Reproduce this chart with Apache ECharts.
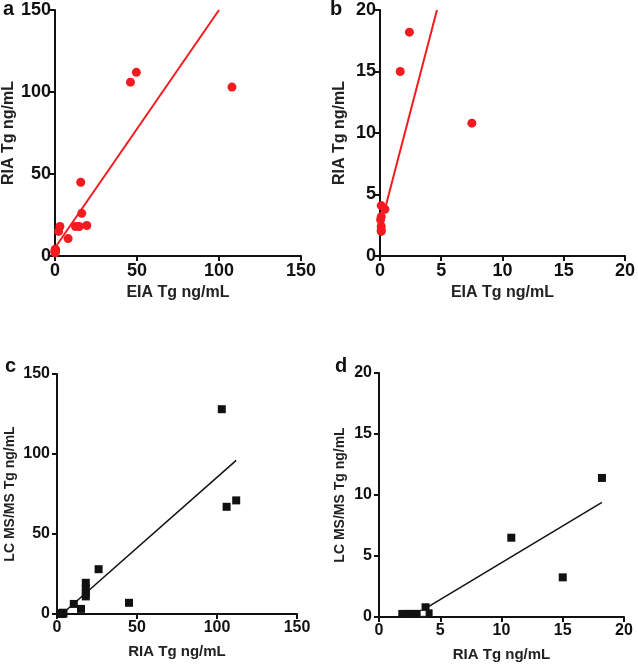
<!DOCTYPE html>
<html>
<head>
<meta charset="utf-8">
<script src="https://cdn.jsdelivr.net/npm/echarts@6/dist/echarts.min.js"></script>
<style>html,body{margin:0;padding:0;background:#fff}#c{width:638px;height:665px}</style>
</head>
<body>
<div id="c"></div>
<script>
// Panel a: EIA (x) vs RIA (y), full range
var aEIA = [107.9, 46, 49.6, 15.7, 16.3, 3.0, 2.2, 8.0, 12.5, 14.8, 19.4, 0.1, 0.4, 0.1, 0.1, 0.1, 0.1, 0.1];
var aRIA = [103, 106, 112, 45, 26, 18, 15, 10.6, 18, 18, 18.6, 4.1, 3.8, 3.2, 2.9, 2.4, 2.1, 2.0];
var aFitX = [0, 100];
var aFitY = [5, 150];
// Panel b: EIA (x) vs RIA (y), low range
var bEIA = [2.4, 1.65, 7.5, 0.1, 0.4, 0.1, 0.05, 0.1, 0.1, 0.1];
var bRIA = [18.2, 15, 10.8, 4.1, 3.8, 3.2, 2.95, 2.4, 2.1, 2.0];
var bFitX = [0.4, 4.65];
var bFitY = [3.8, 20];
// Panel c: RIA (x) vs LC MS/MS (y), full range
var cRIA = [103, 112, 106, 26, 45, 18, 18, 18, 18, 10.5, 15, 2, 2.5, 3, 3.5, 4, 3.8];
var cLC = [128, 71, 67, 28, 7, 19.5, 16, 13, 11, 6.3, 3.2, 0.3, 0.3, 0.3, 0.3, 0.3, 0.8];
var cFitX = [3.5, 112];
var cFitY = [0.3, 96];
// Panel d: RIA (x) vs LC MS/MS (y), low range
var dRIA = [18.2, 10.8, 15, 3.8, 4.05, 1.9, 2.1, 2.3, 2.5, 2.7, 2.9, 3.1, 3.3];
var dLC = [11.4, 6.5, 3.25, 0.8, 0.3, 0.25, 0.25, 0.25, 0.25, 0.25, 0.25, 0.25, 0.25];
var dOpenRIA = [3.6];
var dOpenLC = [0.3];
var dFitX = [3.8, 18.2];
var dFitY = [0.7, 9.4];

var RED = '#f21b1f';

function pairs(xs, ys) { return xs.map(function (x, i) { return [x, ys[i]]; }); }

var grids = [
  { left: 53, top: 10, width: 248, height: 246 },
  { left: 380, top: 10, width: 247, height: 246 },
  { left: 57, top: 374, width: 240, height: 240 },
  { left: 379, top: 373, width: 245, height: 244 }
];

function xAxis(gi, max, interval, name, fs, tfs, gap) {
  return {
    type: 'value', gridIndex: gi, min: 0, max: max, interval: interval,
    name: name, nameLocation: 'middle', nameGap: gap,
    nameTextStyle: { fontFamily: 'Liberation Sans', fontWeight: 'bold', fontSize: tfs, color: '#222' },
    axisLine: { show: true, onZero: false, lineStyle: { color: '#111', width: 2 } },
    axisTick: { show: true, inside: false, length: 5, lineStyle: { color: '#111', width: 2 } },
    axisLabel: { margin: 6, fontFamily: 'Liberation Sans', fontWeight: 'bold', fontSize: fs, color: '#111' },
    splitLine: { show: false }
  };
}
function yAxis(gi, max, interval, name, fs, tfs, gap, lm) {
  return {
    type: 'value', gridIndex: gi, min: 0, max: max, interval: interval,
    name: name, nameLocation: 'middle', nameGap: gap,
    nameTextStyle: { fontFamily: 'Liberation Sans', fontWeight: 'bold', fontSize: tfs, color: '#222' },
    axisLine: { show: true, onZero: false, lineStyle: { color: '#111', width: 2 } },
    axisTick: { show: true, inside: false, length: 5, lineStyle: { color: '#111', width: 2 } },
    axisLabel: { margin: lm, fontFamily: 'Liberation Sans', fontWeight: 'bold', fontSize: fs, color: '#111' },
    splitLine: { show: false }
  };
}

var option = {
  animation: false,
  backgroundColor: '#fff',
  grid: grids,
  xAxis: [
    xAxis(0, 150, 50, 'EIA Tg ng/mL', 18, 16, 29),
    xAxis(1, 20, 5, 'EIA Tg ng/mL', 18, 16, 29),
    xAxis(2, 150, 50, 'RIA Tg ng/mL', 16, 15, 30),
    xAxis(3, 20, 5, 'RIA Tg ng/mL', 16, 15, 30)
  ],
  yAxis: [
    yAxis(0, 150, 50, 'RIA Tg ng/mL', 18, 16, 38, 4),
    yAxis(1, 20, 5, 'RIA Tg ng/mL', 18, 16, 32, 4),
    yAxis(2, 150, 50, 'LC MS/MS Tg ng/mL', 16, 14, 40, 7),
    yAxis(3, 20, 5, 'LC MS/MS Tg ng/mL', 16, 14, 32, 7)
  ],
  graphic: [
    { type: 'text', left: 3, top: -1, style: { text: 'a', font: 'bold 20px "Liberation Sans"', fill: '#111' } },
    { type: 'text', left: 330, top: -1, style: { text: 'b', font: 'bold 20px "Liberation Sans"', fill: '#111' } },
    { type: 'text', left: 5, top: 356, style: { text: 'c', font: 'bold 20px "Liberation Sans"', fill: '#111' } },
    { type: 'text', left: 335, top: 356, style: { text: 'd', font: 'bold 20px "Liberation Sans"', fill: '#111' } }
  ],
  series: [
    { type: 'line', xAxisIndex: 0, yAxisIndex: 0, data: pairs(aFitX, aFitY), symbol: 'none', lineStyle: { color: RED, width: 2 }, z: 2 },
    { type: 'scatter', xAxisIndex: 0, yAxisIndex: 0, data: pairs(aEIA, aRIA), symbol: 'circle', symbolSize: 9, itemStyle: { color: RED, opacity: 1 }, z: 3 },
    { type: 'line', xAxisIndex: 1, yAxisIndex: 1, data: pairs(bFitX, bFitY), symbol: 'none', lineStyle: { color: RED, width: 2 }, z: 2 },
    { type: 'scatter', xAxisIndex: 1, yAxisIndex: 1, data: pairs(bEIA, bRIA), symbol: 'circle', symbolSize: 9, itemStyle: { color: RED, opacity: 1 }, z: 3 },
    { type: 'line', xAxisIndex: 2, yAxisIndex: 2, data: pairs(cFitX, cFitY), symbol: 'none', lineStyle: { color: '#111', width: 1.5 }, z: 2 },
    { type: 'scatter', xAxisIndex: 2, yAxisIndex: 2, data: pairs(cRIA, cLC), symbol: 'rect', symbolSize: 8, itemStyle: { color: '#111', opacity: 1 }, z: 3 },
    { type: 'line', xAxisIndex: 3, yAxisIndex: 3, data: pairs(dFitX, dFitY), symbol: 'none', lineStyle: { color: '#111', width: 1.5 }, z: 2 },
    { type: 'scatter', xAxisIndex: 3, yAxisIndex: 3, data: pairs(dRIA, dLC), symbol: 'rect', symbolSize: 8, itemStyle: { color: '#111', opacity: 1 }, z: 3 },
    { type: 'scatter', xAxisIndex: 3, yAxisIndex: 3, data: pairs(dOpenRIA, dOpenLC), symbol: 'rect', symbolSize: 6, itemStyle: { color: '#fff', borderColor: '#111', borderWidth: 1, opacity: 1 }, z: 4 }
  ]
};
var chart = echarts.init(document.getElementById('c'), null, { renderer: 'canvas' });
chart.setOption(option);
</script>
</body>
</html>
